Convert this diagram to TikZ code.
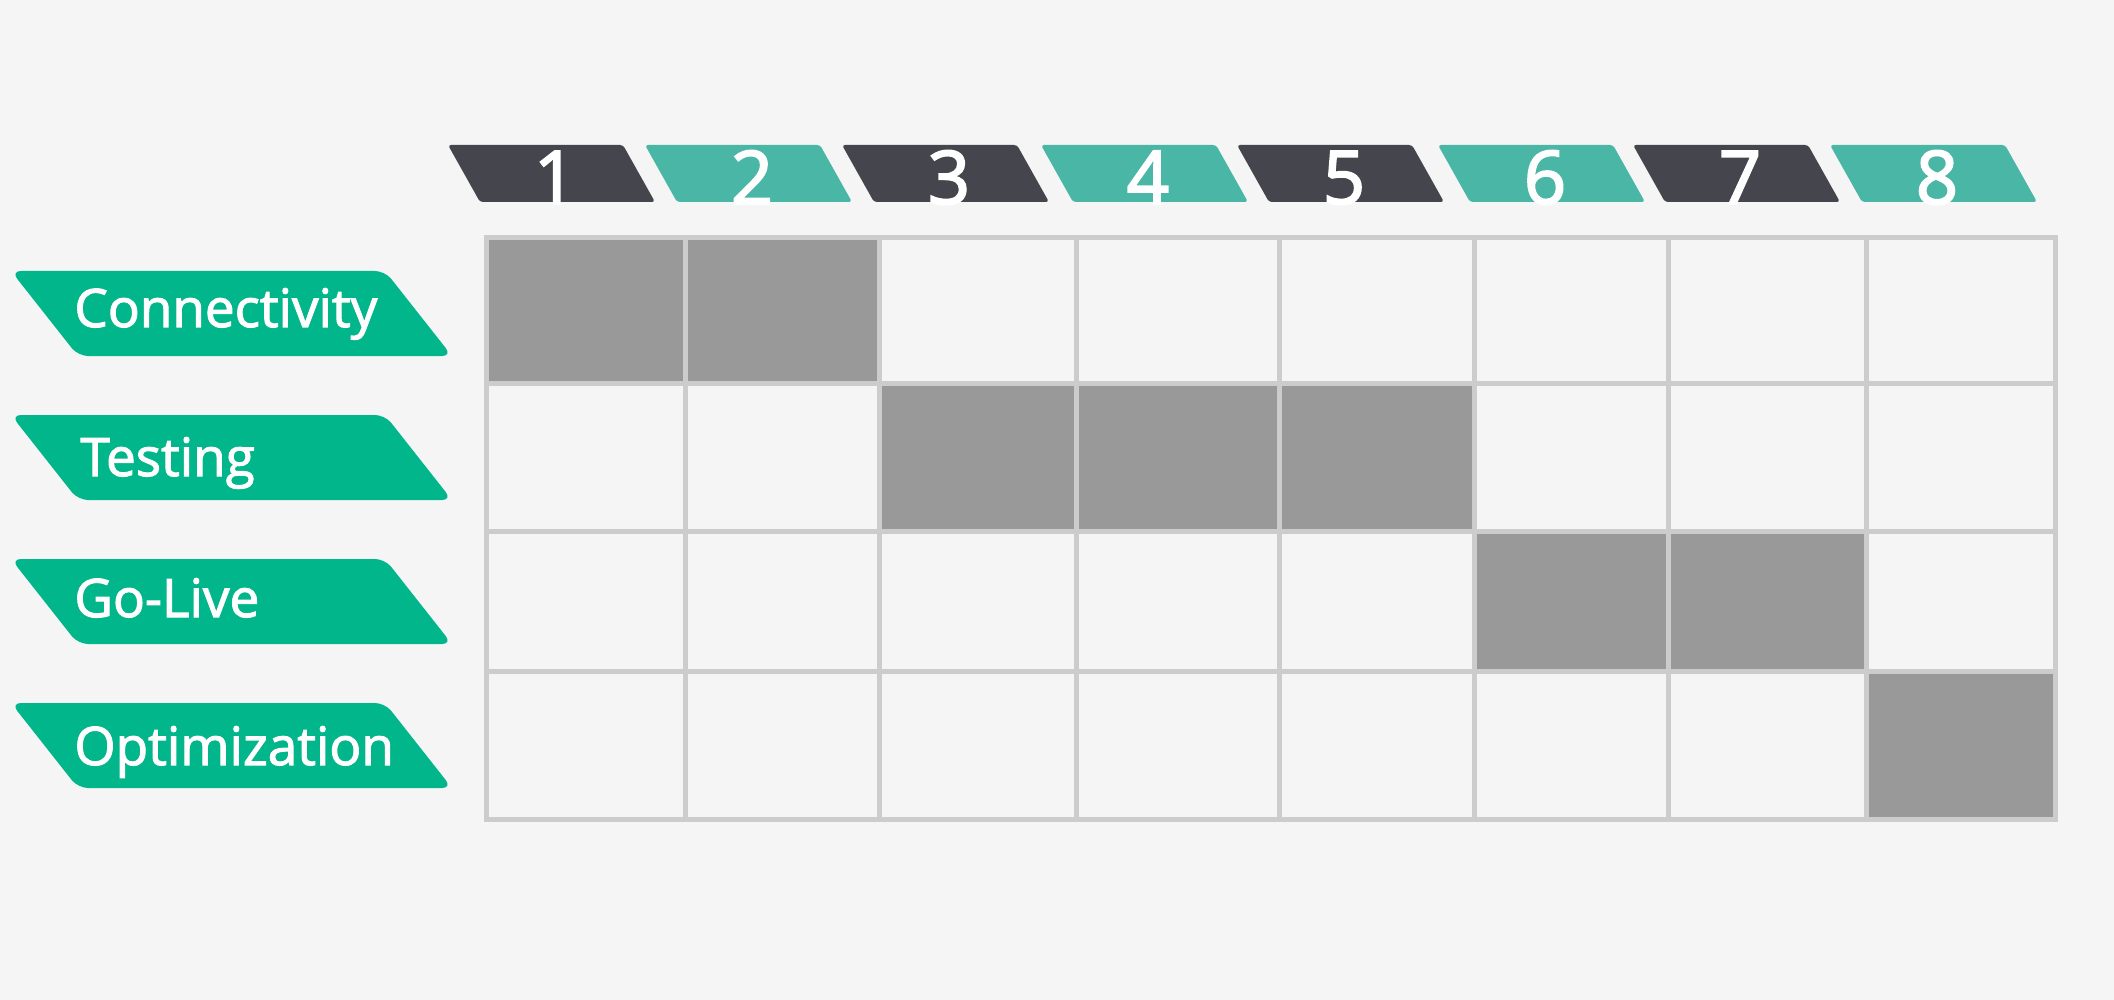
\documentclass[tikz,border=0pt]{standalone}
\usepackage{fontspec}
\setmainfont{Open Sans}
\newfontfamily\semifont{Open Sans}[FakeBold=2]
\newfontfamily\digfont{Open Sans}[FakeBold=2.5]
\definecolor{bgc}{HTML}{F5F5F5}
\definecolor{gridc}{HTML}{CCCCCC}
\definecolor{cellc}{HTML}{999999}
\definecolor{darkc}{HTML}{45454D}
\definecolor{tealc}{HTML}{4AB6A6}
\definecolor{greenc}{HTML}{00B68A}
\tikzset{
  digit/.style={anchor=base, inner sep=0pt, text=white, font=\digfont\fontsize{37}{40}\selectfont},
  lbl/.style={anchor=base west, inner sep=0pt, text=white, font=\semifont\fontsize{26.5}{30}\selectfont},
  gridline/.style={draw=gridc, line width=2.5pt},
  graycell/.style={fill=cellc},
}
\begin{document}
\begin{tikzpicture}[x=0.5pt,y=-0.5pt]
\fill[bgc] (0,0) rectangle (2114,1000);
\useasboundingbox (0,0) rectangle (2114,1000);
% header tabs
\foreach \x/\n/\c in {448/1/darkc,645/2/tealc,842/3/darkc,1041/4/tealc,1237/5/darkc,1438/6/tealc,1633/7/darkc,1830/8/tealc}{
  \fill[\c, rounded corners=1.5pt] (\x,145) -- (\x+175,145) -- (\x+207,202) -- (\x+32,202) -- cycle;
  \node[digit] (h\n) at (\x+107,204) {\n};
}
% row labels
\foreach \y/\t/\b/\dx/\nm in {271/Connectivity/327/0/la,415/Testing/476/6/lb,559/Go-Live/617/0/lc,703/Optimization/765/0/ld}{
  \fill[greenc, rounded corners=5pt] (11,\y) -- (385,\y) -- (452,\y+85) -- (78,\y+85) -- cycle;
  \node[lbl] (\nm) at (74+\dx,\b) {\t};
}
% grid cells
\def\ca{486.5}\def\cb{685.5}\def\cc{879.5}\def\cd{1076.5}\def\ce{1279.5}\def\cf{1474.5}\def\cg{1668.5}\def\ch{1866.5}\def\ci{2055.5}
\def\ra{237.5}\def\rb{383.5}\def\rc{531.5}\def\rd{671.5}\def\re{819.5}
\fill[bgc] (\ca,\ra) rectangle (\ci,\re);
\fill[graycell] (\ca,\ra) rectangle (\cc,\rb);
\fill[graycell] (\cc,\rb) rectangle (\cf,\rc);
\fill[graycell] (\cf,\rc) rectangle (\ch,\rd);
\fill[graycell] (\ch,\rd) rectangle (\ci,\re);
\foreach \xx in {\ca,\cb,\cc,\cd,\ce,\cf,\cg,\ch,\ci}{
  \draw[gridline] (\xx,\ra-2.5) -- (\xx,\re+2.5);
}
\foreach \yy in {\ra,\rb,\rc,\rd,\re}{
  \draw[gridline] (\ca-2.5,\yy) -- (\ci+2.5,\yy);
}
\end{tikzpicture}
\end{document}
